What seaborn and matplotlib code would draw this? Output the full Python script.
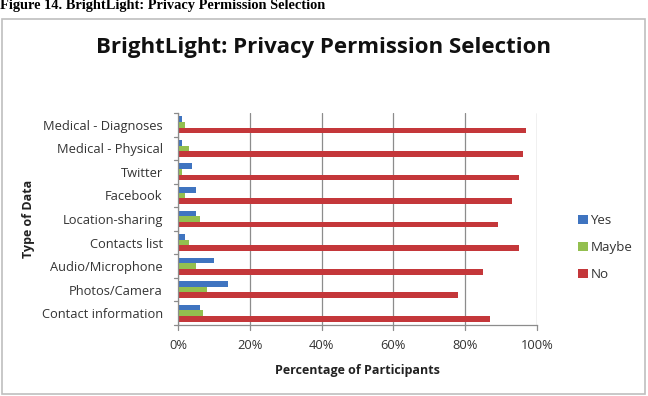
import numpy as np
import pandas as pd
import matplotlib
matplotlib.use("Agg")
import matplotlib.pyplot as plt
import seaborn as sns
from matplotlib.patches import Rectangle

categories = ['Medical - Diagnoses', 'Medical - Physical', 'Twitter', 'Facebook',
              'Location-sharing', 'Contacts list', 'Audio/Microphone',
              'Photos/Camera', 'Contact information']
yes_vals = [1, 1, 4, 5, 5, 2, 10, 14, 6]
maybe_vals = [2, 3, 1, 2, 6, 3, 5, 8, 7]
no_vals = [97, 96, 95, 93, 89, 95, 85, 78, 87]
responses = ['Yes', 'Maybe', 'No']
colors = ['#3F74C0', '#93BF4F', '#C4373A']
xticks = [0, 20, 40, 60, 80, 100]

df = pd.DataFrame({
    'Type of Data': categories * 3,
    'Response': ['Yes'] * 9 + ['Maybe'] * 9 + ['No'] * 9,
    'Percent': yes_vals + maybe_vals + no_vals,
})

sns.set_theme(style='white')
plt.rcParams['font.family'] = ['Open Sans', 'DejaVu Sans']

fig = plt.figure(figsize=(6.48, 3.96), dpi=100)
ax = fig.add_axes([178 / 648, 1 - 325 / 396, (537 - 178) / 648, (325 - 113) / 396])

sns.barplot(data=df, y='Type of Data', x='Percent', hue='Response',
            hue_order=responses, order=categories, palette=colors,
            orient='h', width=0.72, ax=ax, saturation=1, edgecolor='none')

ax.set_xlim(0, 100)
ax.set_xticks(xticks)
ax.set_xticklabels([f'{t}%' for t in xticks], fontsize=9.3, color='#333333')
ax.tick_params(axis='y', labelsize=9.3, colors='#333333', length=0, pad=11)
ax.tick_params(axis='x', length=0, pad=10)
ax.set_ylim(len(categories) - 0.5, -0.5)
ax.grid(axis='x', color='#8C8C8C', linewidth=0.9)
ax.set_axisbelow(True)
for s in ['top', 'right']:
    ax.spines[s].set_visible(False)
for s in ['left', 'bottom']:
    ax.spines[s].set_color('#8C8C8C')
    ax.spines[s].set_linewidth(0.9)

# small tick marks at the category boundaries and at the x ticks
for b in np.arange(-0.5, len(categories), 1.0):
    ax.plot([-1.0, 0], [b, b], color='#8C8C8C', lw=0.9, clip_on=False)
for t in xticks:
    ax.plot([t, t], [len(categories) - 0.5, len(categories) - 0.5 + 0.2],
            color='#8C8C8C', lw=0.9, clip_on=False)

ax.set_xlabel('Percentage of Participants', fontsize=9, fontweight='bold',
              color='#222222', labelpad=9)
ax.set_ylabel('Type of Data', fontsize=9, fontweight='bold', color='#222222')
ax.yaxis.set_label_coords(-143 / 359, 0.5)

leg = ax.legend(loc='center left', bbox_to_anchor=(1.08, 0.365), frameon=False,
                fontsize=9.6, handlelength=0.75, handleheight=0.75,
                handletextpad=0.2, labelspacing=1.05)
for t in leg.get_texts():
    t.set_color('#333333')

fig.text(323 / 648, 1 - 48 / 396, 'BrightLight: Privacy Permission Selection',
         ha='center', va='center', fontsize=16, fontweight='bold',
         color='#111111')

fig.text(0.0, 1 - 6 / 396, 'Figure 14. BrightLight: Privacy Permission Selection',
         ha='left', va='center', fontsize=10.4, fontweight='bold',
         family=['Liberation Serif', 'DejaVu Serif'], color='black')

fig.patches.append(Rectangle((2 / 648, 1 - 394 / 396), 643 / 648, 375 / 396,
                             transform=fig.transFigure, fill=False,
                             edgecolor='#BFBFBF', linewidth=1.2))

fig.savefig('out.png', dpi=100)
